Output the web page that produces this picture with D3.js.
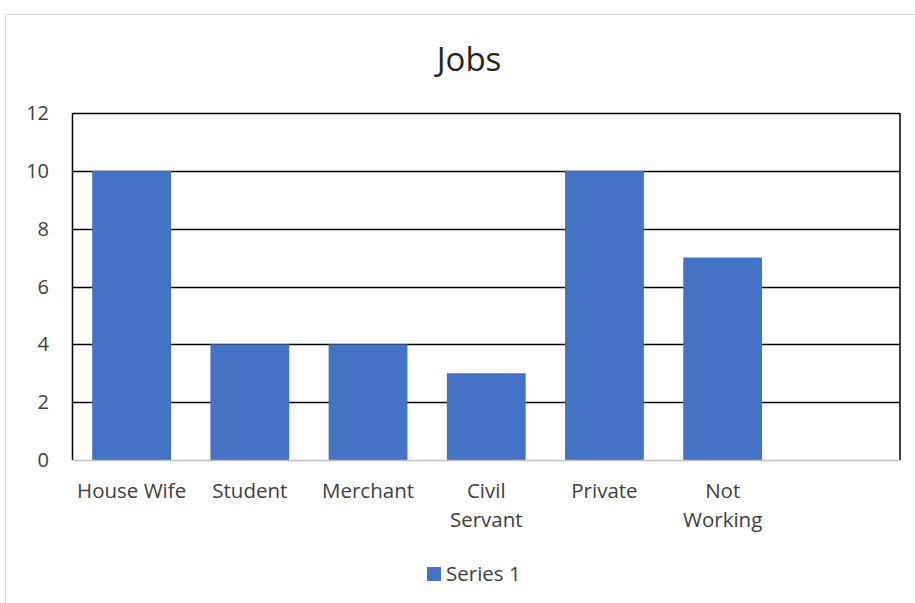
<!DOCTYPE html>
<html>
<head>
<meta charset="utf-8">
<script src="https://cdn.jsdelivr.net/npm/d3@7"></script>
<style>
  html, body { margin: 0; padding: 0; background: #fff; }
  svg { display: block; font-family: "Open Sans", Lato, sans-serif; }
</style>
</head>
<body>
<svg id="chart" width="915" height="603"></svg>
<script>
// Job categories (the last slot is an unused, unlabeled category)
const categories = ["House Wife", "Student", "Merchant", "Civil Servant", "Private", "Not Working", ""];
const seriesName = "Series 1";
const series1 = [10, 4, 4, 3, 10, 7, null];
const yTicks = [0, 2, 4, 6, 8, 10, 12];
// Category labels broken over lines where they wrap
const labelLines = [["House Wife"], ["Student"], ["Merchant"], ["Civil", "Servant"], ["Private"], ["Not", "Working"], []];

const svg = d3.select("#chart");
const W = 915, H = 603;
const plot = { left: 72.5, top: 113, right: 900, bottom: 460 };
const barColor = "#4472C4";
const textColor = "#404040";

// Outer chart frame
svg.append("rect")
  .attr("x", 5.5).attr("y", 14.5)
  .attr("width", W + 10).attr("height", H + 10)
  .attr("fill", "#fff").attr("stroke", "#d9d9d9").attr("stroke-width", 1);

// Title
svg.append("text")
  .attr("x", 469).attr("y", 71)
  .attr("text-anchor", "middle")
  .attr("font-size", 33)
  .attr("fill", "#262626")
  .text("Jobs");

const x = d3.scaleBand()
  .domain(categories.map((c, i) => i))
  .range([plot.left, plot.right])
  .paddingInner(1 / 3)
  .paddingOuter(1 / 6);

const y = d3.scaleLinear().domain([0, 12]).range([plot.bottom, plot.top]);

// Horizontal gridlines
svg.append("g")
  .selectAll("line")
  .data(yTicks.filter(t => t > 0))
  .join("line")
  .attr("x1", plot.left).attr("x2", plot.right)
  .attr("y1", d => Math.round(y(d)) + 0.5).attr("y2", d => Math.round(y(d)) + 0.5)
  .attr("stroke", "#000").attr("stroke-width", 1.5);

// Left and right plot borders
svg.append("line")
  .attr("x1", plot.left).attr("x2", plot.left)
  .attr("y1", plot.top).attr("y2", plot.bottom)
  .attr("stroke", "#000").attr("stroke-width", 1.5);
svg.append("line")
  .attr("x1", plot.right).attr("x2", plot.right)
  .attr("y1", plot.top).attr("y2", plot.bottom)
  .attr("stroke", "#000").attr("stroke-width", 1.5);

// Bars
svg.append("g")
  .selectAll("rect")
  .data(series1.map((v, i) => ({ v, i })).filter(d => d.v != null))
  .join("rect")
  .attr("x", d => x(d.i))
  .attr("width", x.bandwidth())
  .attr("y", d => y(d.v))
  .attr("height", d => y(0) - y(d.v))
  .attr("fill", barColor);

// Category axis line
svg.append("line")
  .attr("x1", plot.left).attr("x2", plot.right)
  .attr("y1", plot.bottom + 0.5).attr("y2", plot.bottom + 0.5)
  .attr("stroke", "#bfbfbf").attr("stroke-width", 1.5);

// Y tick labels
svg.append("g")
  .selectAll("text")
  .data(yTicks)
  .join("text")
  .attr("x", 49)
  .attr("y", d => y(d))
  .attr("dy", "0.35em")
  .attr("text-anchor", "end")
  .attr("font-size", 20)
  .attr("fill", textColor)
  .text(d => d);

// Category labels
const catG = svg.append("g");
labelLines.forEach((lines, i) => {
  const t = catG.append("text")
    .attr("x", x(i) + x.bandwidth() / 2)
    .attr("y", 498)
    .attr("text-anchor", "middle")
    .attr("font-size", 20.5)
    .attr("fill", textColor);
  lines.forEach((ln, j) => {
    t.append("tspan")
      .attr("x", x(i) + x.bandwidth() / 2)
      .attr("dy", j === 0 ? 0 : 29)
      .text(ln);
  });
});

// Legend
const legend = svg.append("g");
legend.append("rect")
  .attr("x", 427).attr("y", 567)
  .attr("width", 14).attr("height", 14)
  .attr("fill", barColor);
legend.append("text")
  .attr("x", 446).attr("y", 581)
  .attr("font-size", 20.5)
  .attr("fill", textColor)
  .text(seriesName);
</script>
</body>
</html>
